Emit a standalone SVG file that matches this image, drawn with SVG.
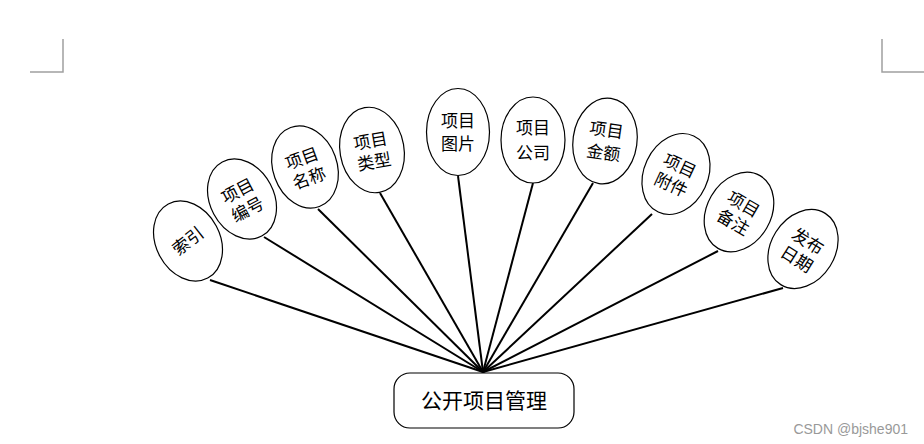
<svg xmlns="http://www.w3.org/2000/svg" width="924" height="444" viewBox="0 0 924 444">
<style>
.e{fill:#fff;stroke:#000;stroke-width:1.2}
.t{font-family:"Noto Sans CJK SC","Liberation Serif",serif;font-size:17px;fill:#000;text-anchor:middle}
.c{stroke:#000;stroke-width:2;fill:none}
.m{stroke:#a0a0a0;stroke-width:1.5;fill:none}
</style>
<rect width="924" height="444" fill="#fff"/>
<path class="m" d="M63,39 V72 H30"/>
<path class="m" d="M882,39 V72 H924"/>
<g id="connectors">
<line class="c" x1="210" y1="280" x2="483" y2="372"/>
<line class="c" x1="264" y1="237" x2="483" y2="372"/>
<line class="c" x1="318" y1="209" x2="483" y2="372"/>
<line class="c" x1="380" y1="193" x2="483" y2="372"/>
<line class="c" x1="458" y1="176" x2="483" y2="372"/>
<line class="c" x1="533" y1="183" x2="483" y2="372"/>
<line class="c" x1="593" y1="183" x2="483" y2="372"/>
<line class="c" x1="652" y1="214" x2="483" y2="372"/>
<line class="c" x1="718" y1="251" x2="483" y2="372"/>
<line class="c" x1="783" y1="288" x2="483" y2="372"/>
</g>
<g id="n1" transform="translate(188,241) rotate(-28)">
<ellipse class="e" rx="32" ry="42"/>
<text class="t" transform="rotate(-10)" y="6">索引</text>
</g>
<g id="n2" transform="translate(242,199) rotate(-28)">
<ellipse class="e" rx="32" ry="42"/>
<text class="t" y="-3">项目</text><text class="t" y="18">编号</text>
</g>
<g id="n3" transform="translate(305,167) rotate(-20)">
<ellipse class="e" rx="32" ry="42"/>
<text class="t" y="-3">项目</text><text class="t" y="18">名称</text>
</g>
<g id="n4" transform="translate(372,150) rotate(-10)">
<ellipse class="e" rx="32" ry="43"/>
<text class="t" y="-3">项目</text><text class="t" y="18">类型</text>
</g>
<g id="n5" transform="translate(458,132)">
<ellipse class="e" rx="31.5" ry="43.5"/>
<text class="t" y="-5">项目</text><text class="t" y="18">图片</text>
</g>
<g id="n6" transform="translate(533,140)">
<ellipse class="e" rx="32" ry="43"/>
<text class="t" y="-6">项目</text><text class="t" y="19">公司</text>
</g>
<g id="n7" transform="translate(605,141) rotate(8)">
<ellipse class="e" rx="32" ry="43"/>
<text class="t" y="-5">项目</text><text class="t" y="18">金额</text>
</g>
<g id="n8" transform="translate(676,174) rotate(25)">
<ellipse class="e" rx="32" ry="42"/>
<text class="t" y="-3">项目</text><text class="t" y="18">附件</text>
</g>
<g id="n9" transform="translate(739,212) rotate(30)">
<ellipse class="e" rx="32" ry="42"/>
<text class="t" y="-3">项目</text><text class="t" y="18">备注</text>
</g>
<g id="n10" transform="translate(803,249) rotate(32)">
<ellipse class="e" rx="32" ry="42"/>
<text class="t" y="-3">发布</text><text class="t" y="18">日期</text>
</g>
<g id="hub">
<rect x="394" y="373" width="180" height="55" rx="16" ry="16" fill="#fff" stroke="#000" stroke-width="1.2"/>
<text x="484" y="408" font-family="Noto Sans CJK SC, Liberation Serif, serif" font-size="21" text-anchor="middle" fill="#000">公开项目管理</text>
</g>
<text x="908" y="434" font-family="Liberation Sans, Arial, sans-serif" font-size="14" fill="#999" text-anchor="end">CSDN @bjshe901</text>
</svg>
